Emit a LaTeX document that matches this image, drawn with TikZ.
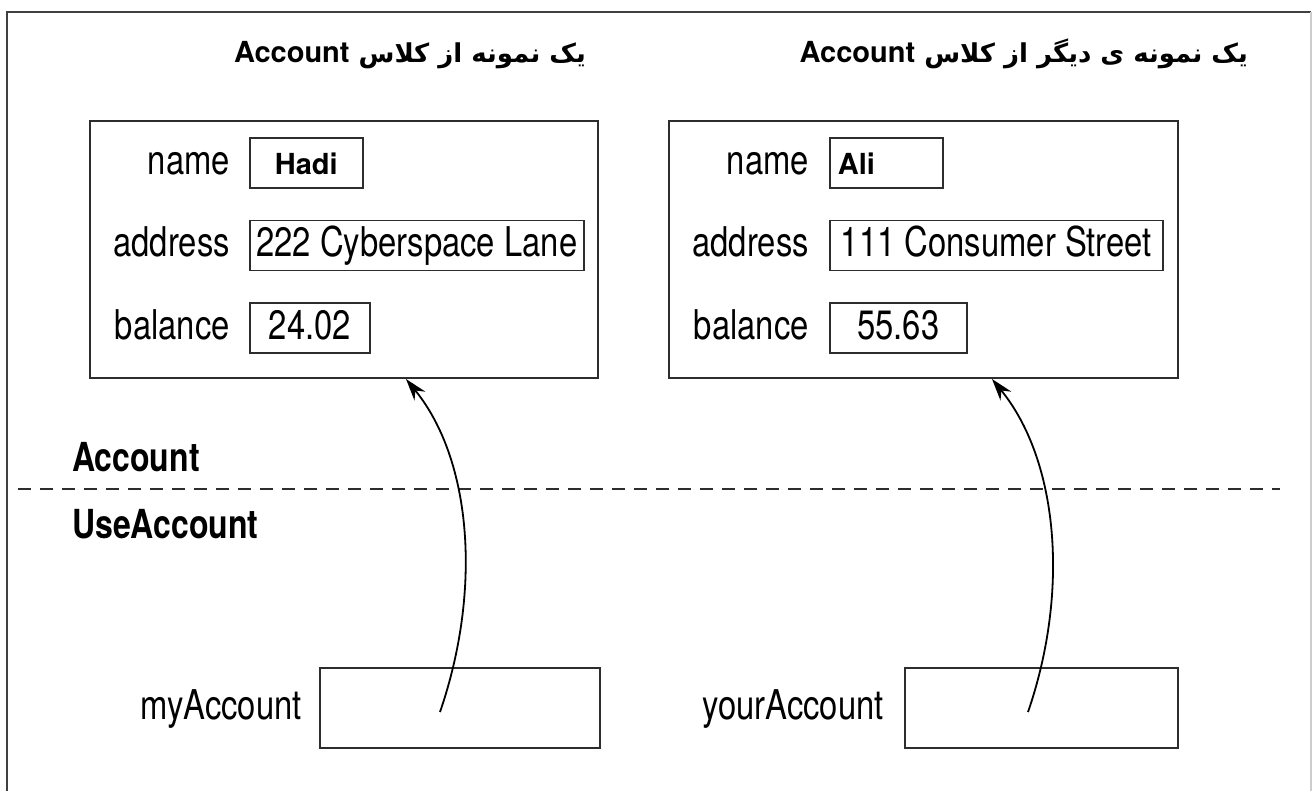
\documentclass[tikz,border=0pt]{standalone}
\usepackage{fontspec}
\setmainfont{TeX Gyre Heros}[FakeStretch=0.8]
\newfontfamily\widefont{TeX Gyre Heros}
\newfontfamily\arabicfont[Script=Arabic]{DejaVu Sans}
\TeXXeTstate=1
\usetikzlibrary{arrows.meta,positioning}
\definecolor{acctLine}{RGB}{45,45,45}
\definecolor{acctFrame}{RGB}{64,64,64}
\definecolor{acctEdge}{RGB}{205,205,205}
\newcommand{\boldval}{\widefont\bfseries\fontsize{29}{32}\selectfont}

\begin{document}
\begin{tikzpicture}[
    x=1pt, y=-1pt,
    objbox/.style={draw=acctLine, line width=2pt, minimum height=257pt, inner sep=0pt},
    fieldlbl/.style={font=\fontsize{41}{48}\selectfont, text height=31pt, text depth=9pt, inner sep=0pt},
    fieldval/.style={draw=acctLine, line width=1.6pt, font=\fontsize{41}{48}\selectfont, text height=31pt, text depth=9pt, inner ysep=5pt, inner xsep=0pt},
    refbox/.style={draw=acctLine, line width=2pt, minimum height=80pt, inner sep=0pt},
    classlbl/.style={font=\bfseries\fontsize{40}{48}\selectfont, anchor=base west, inner sep=0pt},
    heading/.style={font=\arabicfont\bfseries\fontsize{26}{32}\selectfont, anchor=base east, inner sep=0pt},
    divider/.style={draw=acctLine, line width=2pt, dash pattern=on 13pt off 9pt},
    refarrow/.style={-{Stealth[length=22pt, width=14pt]}, line width=1.8pt}
  ]
    \useasboundingbox (0,0) rectangle (1313,790);
    \draw[acctFrame, line width=2.5pt] (7,800) |- (1311,12);
    \draw[acctEdge, line width=1.2pt] (1311,12) -- (1311,800);

    % headings
    \node[heading] (headHadi) at (586,62) {\beginR یک نمونه از کلاس \beginL{\boldval Account}\endL\endR};
    \node[heading] (headAli) at (1248,62) {\beginR یک نمونه ی دیگر از کلاس \beginL{\boldval Account}\endL\endR};

    % first object
    \node[objbox, minimum width=508pt] (objHadi) at (344,249.5) {};
    \node[fieldlbl, anchor=east] (nameHadiLbl) at (230,163) {name};
    \node[fieldval, right=19pt of nameHadiLbl, minimum width=113pt] (nameHadi) {\boldval Hadi};
    \node[fieldlbl, anchor=east] (addrHadiLbl) at (230,245.5) {address};
    \node[fieldval, right=19pt of addrHadiLbl, minimum width=334pt] (addrHadi) {222 Cyberspace Lane};
    \node[fieldlbl, anchor=east] (balHadiLbl) at (230,328) {balance};
    \node[fieldval, right=19pt of balHadiLbl, minimum width=120pt] (balHadi) {24.02};

    % second object
    \node[objbox, minimum width=509pt] (objAli) at (923.5,249.5) {};
    \node[fieldlbl, anchor=east] (nameAliLbl) at (809,163) {name};
    \node[fieldval, right=20pt of nameAliLbl, text width=97pt, align=left, inner xsep=8pt] (nameAli) {\boldval Ali};
    \node[fieldlbl, anchor=east] (addrAliLbl) at (809,245.5) {address};
    \node[fieldval, right=20pt of addrAliLbl, minimum width=333pt] (addrAli) {111 Consumer Street};
    \node[fieldlbl, anchor=east] (balAliLbl) at (809,328) {balance};
    \node[fieldval, right=20pt of balAliLbl, minimum width=137pt] (balAli) {55.63};

    % class boundary
    \node[classlbl] (clsAccount) at (72,471) {Account};
    \node[classlbl] (clsUse) at (72,538) {UseAccount};
    \coordinate (divL) at (18,489);
    \coordinate (divR) at (1280,489);
    \draw[divider] (divL) -- (divR);

    % reference variables
    \node[refbox, minimum width=280pt] (refMy) at (460,708) {};
    \node[fieldlbl, left=17pt of refMy] (lblMy) {myAccount};
    \node[refbox, minimum width=273pt] (refYour) at (1041.5,708) {};
    \node[fieldlbl, left=20pt of refYour] (lblYour) {yourAccount};

    \coordinate (srcMy) at (440,712);
    \coordinate (dstHadi) at (406,379);
    \coordinate (srcYour) at (1028,712);
    \coordinate (dstAli) at (992,379);
    \draw[refarrow] (srcMy) .. controls (482,590) and (472,460) .. (dstHadi);
    \draw[refarrow] (srcYour) .. controls (1070,590) and (1058,460) .. (dstAli);
  \end{tikzpicture}
\end{document}
